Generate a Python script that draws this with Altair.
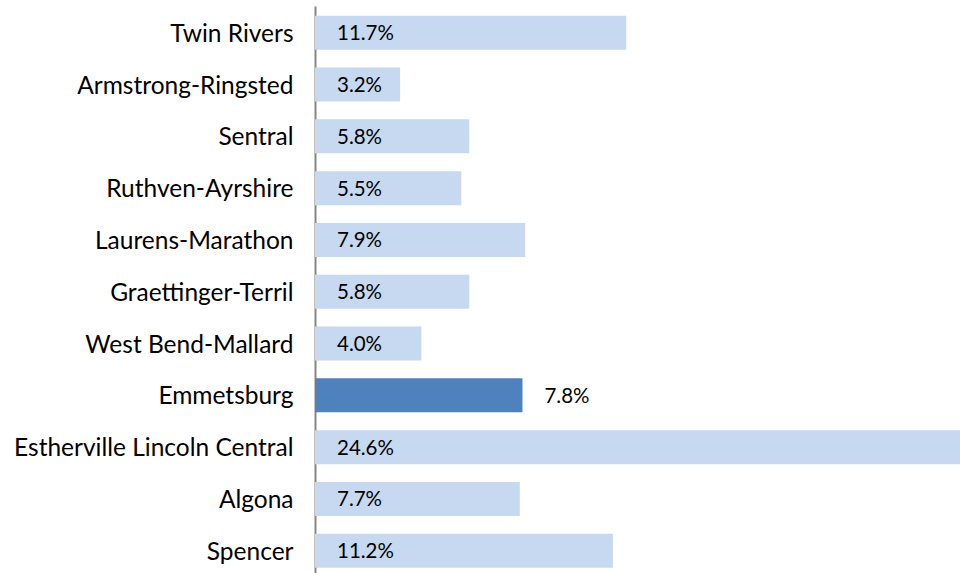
import altair as alt
import pandas as pd

districts = ["Twin Rivers", "Armstrong-Ringsted", "Sentral", "Ruthven-Ayrshire",
             "Laurens-Marathon", "Graettinger-Terril", "West Bend-Mallard",
             "Emmetsburg", "Estherville Lincoln Central", "Algona", "Spencer"]
values = [11.7, 3.2, 5.8, 5.5, 7.9, 5.8, 4.0, 7.8, 24.6, 7.7, 11.2]
highlight = "Emmetsburg"

df = pd.DataFrame({"district": districts, "value": values})
df["hl"] = df["district"] == highlight
df["label"] = df["value"].map(lambda v: f"{v:.1f}%")
df["lpos"] = [v if d == highlight else 0 for d, v in zip(districts, values)]

FONT = "Lato"

y = alt.Y("district:N", sort=districts, title=None,
          scale=alt.Scale(paddingInner=0.344, paddingOuter=0.145, align=0.65),
          axis=alt.Axis(domain=True, domainColor="#868686", domainWidth=2,
                        ticks=False, labelPadding=22, labelFontSize=24.5,
                        labelFont=FONT, labelColor="#000000", labelLimit=400,
                        labelOffset=2, grid=False))
xs = alt.Scale(domain=[0, 24.25], nice=False, zero=True)

bars = alt.Chart(df).mark_bar(clip=True).encode(
    x=alt.X("value:Q", scale=xs, axis=None),
    y=y,
    color=alt.Color("hl:N", scale=alt.Scale(domain=[False, True],
                                            range=["#C6D9F0", "#4F81BD"]),
                    legend=None),
)

labels = alt.Chart(df).mark_text(align="left", baseline="middle", dx=22, dy=1.5,
                                 fontSize=20.5, font=FONT, color="#000000").encode(
    x=alt.X("lpos:Q", scale=xs, axis=None),
    y=alt.Y("district:N", sort=districts),
    text="label:N",
)

chart = (bars + labels).properties(
    width=645, height=567,
    padding={"left": 315, "top": 6, "right": 0, "bottom": 0},
    autosize=alt.AutoSizeParams(type="none"),
).configure(background="white").configure_view(strokeWidth=0, stroke=None)

chart.save("out.html", embed_options={"renderer": "svg", "actions": False})
